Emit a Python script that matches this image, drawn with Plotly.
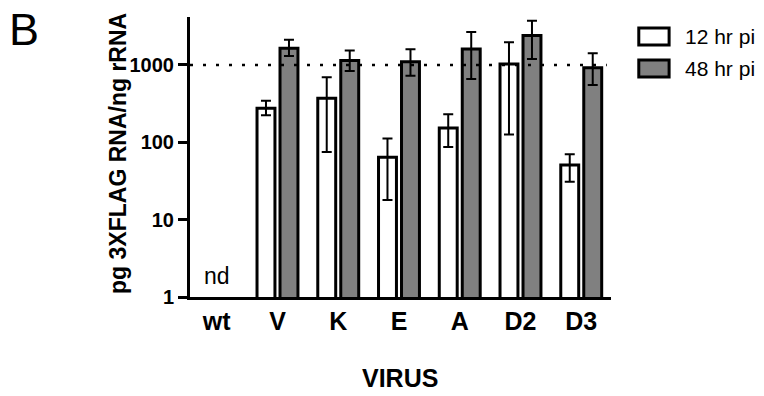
import plotly.graph_objects as go

categories = ["wt", "V", "K", "E", "A", "D2", "D3"]
series_names = ["12 hr pi", "48 hr pi"]
h12 = [None, 275, 370, 64, 153, 1030, 51]
h12_err_plus = [None, 69, 322, 48, 78, 940, 19]
h12_err_minus = [None, 51, 295, 46, 66, 904, 20]
h48 = [None, 1650, 1140, 1100, 1610, 2400, 920]
h48_err_plus = [None, 460, 394, 500, 1050, 1330, 497]
h48_err_minus = [None, 340, 304, 374, 952, 1203, 371]
y_tick_vals = [1, 10, 100, 1000]
y_tick_text = ["1", "10", "100", "1000"]
reference_level = 1000

FONT = "Arial, Liberation Sans, sans-serif"
GRAY = "#808080"

fig = go.Figure()
fig.add_trace(go.Bar(
    x=categories, y=h12, name=series_names[0],
    marker=dict(color="white", line=dict(color="black", width=3)),
    error_y=dict(type="data", array=h12_err_plus, arrayminus=h12_err_minus,
                 symmetric=False, color="black", thickness=2, width=5),
))
fig.add_trace(go.Bar(
    x=categories, y=h48, name=series_names[1],
    marker=dict(color=GRAY, line=dict(color="black", width=3)),
    error_y=dict(type="data", array=h48_err_plus, arrayminus=h48_err_minus,
                 symmetric=False, color="black", thickness=2, width=5),
))

# dotted reference line at 1000
fig.add_shape(type="line", xref="paper", yref="y", x0=0, x1=0.99,
              y0=reference_level, y1=reference_level,
              line=dict(color="black", width=2.5, dash="3px,10px"))

# custom legend (large rectangles like the original)
legend_fills = ["white", GRAY]
legend_y = [(0.90, 0.961), (0.786, 0.846)]
for fill, (ya, yb), name in zip(legend_fills, legend_y, series_names):
    fig.add_shape(type="rect", xref="paper", yref="paper",
                  x0=1.066, x1=1.138, y0=ya, y1=yb,
                  fillcolor=fill, line=dict(color="black", width=3))
    fig.add_annotation(xref="paper", yref="paper", x=1.172, y=(ya + yb) / 2,
                       text=name, showarrow=False, xanchor="left", yanchor="middle",
                       font=dict(family=FONT, size=21, color="black"))

# texts
fig.add_annotation(xref="paper", yref="paper", x=-0.171, y=0.511,
                   text="<b>pg 3XFLAG RNA/ng rRNA</b>", textangle=-90,
                   showarrow=False, xanchor="center", yanchor="middle",
                   font=dict(family=FONT, size=23, color="black"))
fig.add_annotation(xref="paper", yref="paper", x=0.499, y=-0.289,
                   text="<b>VIRUS</b>", showarrow=False,
                   xanchor="center", yanchor="middle",
                   font=dict(family=FONT, size=25, color="black"))
fig.add_annotation(xref="paper", yref="paper", x=-0.394, y=0.955,
                   text="B", showarrow=False, xanchor="center", yanchor="middle",
                   font=dict(family=FONT, size=45, color="black"))
fig.add_annotation(xref="x", yref="paper", x="wt", y=0.075,
                   text="nd", showarrow=False, xanchor="center", yanchor="middle",
                   font=dict(family=FONT, size=23, color="black"))

fig.update_layout(
    width=764, height=396,
    margin=dict(l=190, r=153, t=17, b=99),
    paper_bgcolor="white", plot_bgcolor="white",
    barmode="group", bargap=0.243, bargroupgap=0.22,
    showlegend=False,
    font=dict(family=FONT, color="black"),
)
fig.update_xaxes(
    type="category", range=[-0.44, 6.49],
    showline=True, linecolor="black", linewidth=3, ticks="",
    tickfont=dict(family=FONT, size=25, color="black"),
    tickvals=categories, ticktext=["<b>%s</b>" % c for c in categories],
    showgrid=False, zeroline=False,
)
fig.update_yaxes(
    type="log", range=[0, 3.62],
    showline=True, linecolor="black", linewidth=3,
    ticks="outside", ticklen=9, tickwidth=2.5, tickcolor="black",
    tickvals=y_tick_vals, ticktext=["<b>%s</b>" % t for t in y_tick_text],
    tickfont=dict(family=FONT, size=20, color="black"),
    showgrid=False, zeroline=False,
)

# remove the browser's default 8px page margin so the figure fills the window
fig.write_html("out.html", config={"displayModeBar": False},
               post_script="document.body.style.margin='0';")
